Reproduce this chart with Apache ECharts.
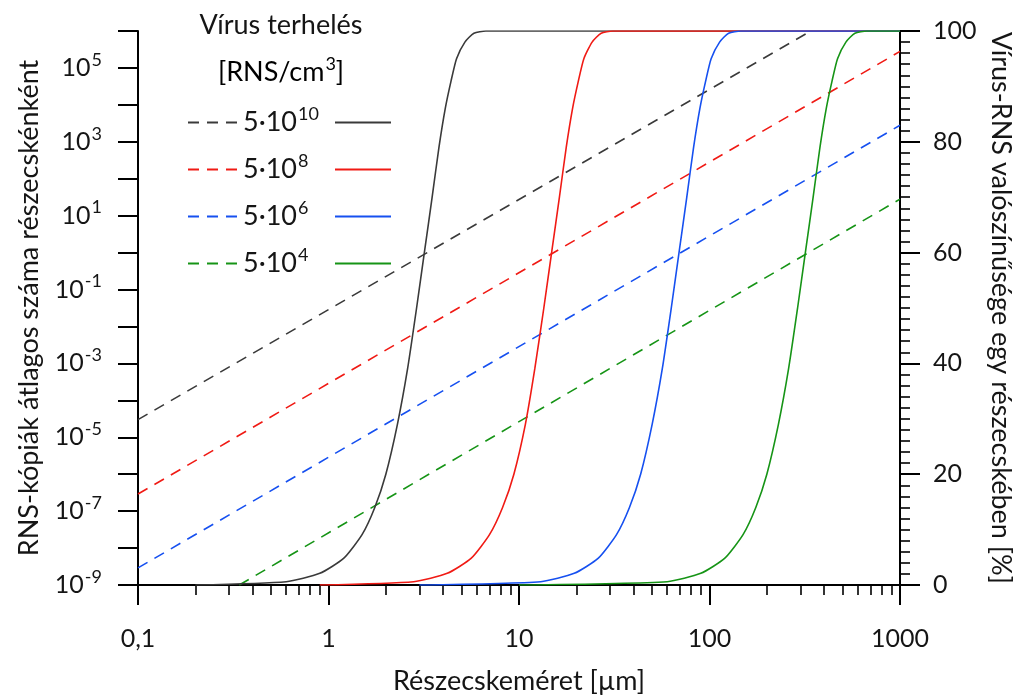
<!DOCTYPE html>
<html><head><meta charset="utf-8">
<script src="https://cdn.jsdelivr.net/npm/echarts@6/dist/echarts.min.js"></script>
<style>html,body{margin:0;padding:0;background:#fff}#c{width:1015px;height:695px}</style>
</head><body><div id="c"></div><script>
// ---- tick values / labels ----
const xTickValues = [0.1, 1, 10, 100, 1000];
const xTickLabels = ['0,1', '1', '10', '100', '1000'];
const xMinorTicks = [0.2,0.3,0.4,0.5,0.6,0.7,0.8,0.9, 2,3,4,5,6,7,8,9, 20,30,40,50,60,70,80,90, 200,300,400,500,600,700,800,900];
const yLeftTicks = [1e-9,1e-8,1e-7,1e-6,1e-5,1e-4,1e-3,1e-2,1e-1,1,1e1,1e2,1e3,1e4,1e5,1e6];
const yLeftLabels = [1e-9,1e-7,1e-5,1e-3,1e-1,1e1,1e3,1e5];
const legendExponents = ['10', '8', '6', '4'];

// ---- mean RNA copies per particle (dashed, left log axis) ----
const dashBlack = [[0.1, 3.0e-5], [340, 1e6]];
const dashRed   = [[0.1, 2.9e-7], [1000, 2.8e5]];
const dashBlue  = [[0.1, 2.9e-9], [1000, 2.8e3]];
const dashGreen = [[0.34, 1e-9], [1000, 28]];

// ---- probability of virus RNA in a particle [%] (solid, right axis) ----
const blackX = [0.2, 0.6, 0.9, 1.2, 1.5, 1.75, 2.0, 2.3, 2.6, 2.9, 3.2, 3.5, 3.8, 4.1, 4.4, 4.7, 5.2, 5.8, 6.7, 1000];
const blackP = [0, 0.6, 2.1, 4.8, 9.1, 14, 20, 29, 39, 50, 60.5, 70, 79, 86, 91, 95, 98, 99.6, 100, 100];
const redX   = [0.9, 2.8, 4.2, 5.6, 7.0, 8.2, 9.4, 10.8, 12.1, 13.5, 14.9, 16.3, 17.7, 19.1, 20.5, 21.9, 24.2, 27, 31, 1000];
const redP   = [0, 0.6, 2.1, 4.8, 9.1, 14, 20, 29, 39, 50, 60.5, 70, 79, 86, 91, 95, 98, 99.6, 100, 100];
const blueX  = [3, 13, 19.5, 26, 32.5, 38, 43.5, 50, 56.5, 63, 69.5, 76, 82.5, 89, 95.5, 102, 113, 126, 146, 1000];
const blueP  = [0, 0.6, 2.1, 4.8, 9.1, 14, 20, 29, 39, 50, 60.5, 70, 79, 86, 91, 95, 98, 99.6, 100, 100];
const greenX = [10, 60, 90, 120, 150, 175, 200, 230, 260, 290, 320, 350, 380, 410, 440, 470, 520, 580, 670, 1000];
const greenP = [0, 0.6, 2.1, 4.8, 9.1, 14, 20, 29, 39, 50, 60.5, 70, 79, 86, 91, 95, 98, 99.6, 100, 100];

const COLORS = ['#3a3a3a', '#f01a14', '#1650f0', '#169416'];
const FONT = 'Lato';
const TXT = '#151515';
const FS = 27;   // titles / axis names
const TFS = 25;  // tick labels
const rich = {
  a: { fontFamily: FONT, fontSize: FS, color: TXT },
  s: { fontFamily: FONT, fontSize: 18, color: TXT, padding: [0, 0, 17, 1] }
};
const richTick = {
  a: { fontFamily: FONT, fontSize: TFS, color: TXT },
  s: { fontFamily: FONT, fontSize: 18, color: TXT, padding: [0, 0, 16, 1] }
};

function zipXY(xs, ys) { return xs.map((x, i) => [x, ys[i]]); }

const dashedSets = [dashBlack, dashRed, dashBlue, dashGreen];
const solidSets = [zipXY(blackX, blackP), zipXY(redX, redP), zipXY(blueX, blueP), zipXY(greenX, greenP)];
const dashNames = legendExponents.map(e => 'd' + e);
const solidNames = legendExponents.map(e => 's' + e);

const series = [];
dashedSets.forEach((d, i) => series.push({
  name: dashNames[i], type: 'line', xAxisIndex: 0, yAxisIndex: 0, data: d,
  symbol: 'none', silent: true,
  lineStyle: { color: COLORS[i], width: 1.6, type: [11, 8] }, itemStyle: { color: COLORS[i] }
}));
solidSets.forEach((d, i) => series.push({
  name: solidNames[i], type: 'line', xAxisIndex: 0, yAxisIndex: 1, data: d,
  symbol: 'none', silent: true, smooth: 0.2,
  lineStyle: { color: COLORS[i], width: 1.6 }, itemStyle: { color: COLORS[i] }
}));

const axisBlack = { color: '#000', width: 2 };
const nearest = (arr, v) => arr.findIndex(t => Math.abs(Math.log10(t) - Math.log10(v)) < 1e-6);

const legendBase = {
  orient: 'vertical', top: 100, itemHeight: 14, itemGap: 16,
  selectedMode: false, textStyle: { rich }, itemStyle: { opacity: 0 }
};

const option = {
  animation: false,
  backgroundColor: '#fff',
  grid: { left: 138, right: 115, top: 31, bottom: 110, containLabel: false, outerBoundsMode: 'none' },
  xAxis: [{
    type: 'log', logBase: 10, min: 0.1, max: 1000, position: 'bottom',
    axisLine: { show: true, lineStyle: axisBlack },
    axisTick: { show: true, length: 20, lineStyle: axisBlack, customValues: xTickValues },
    axisLabel: { customValues: xTickValues, margin: 41, color: TXT, fontFamily: FONT, fontSize: TFS,
      formatter: v => xTickLabels[nearest(xTickValues, v)] },
    splitLine: { show: false }, minorTick: { show: false },
    name: 'Részecskeméret [µm]', nameLocation: 'middle', nameGap: 83,
    nameTextStyle: { color: TXT, fontFamily: FONT, fontSize: FS }
  }, {
    type: 'log', logBase: 10, min: 0.1, max: 1000, position: 'bottom',
    axisLine: { show: false },
    axisTick: { show: true, length: 10, lineStyle: { color: '#000', width: 1.6 }, customValues: xMinorTicks },
    axisLabel: { show: false }, splitLine: { show: false }
  }],
  yAxis: [{
    type: 'log', logBase: 10, min: 1e-9, max: 1e6, position: 'left',
    axisLine: { show: true, lineStyle: axisBlack },
    axisTick: { show: true, length: 20, lineStyle: axisBlack, customValues: yLeftTicks },
    axisLabel: { customValues: yLeftLabels, margin: 36, rich: richTick,
      formatter: v => '{a|10}{s|' + Math.round(Math.log10(v)) + '}' },
    splitLine: { show: false },
    name: 'RNS-kópiák átlagos száma részecskénként', nameLocation: 'middle', nameGap: 95,
    nameTextStyle: { color: TXT, fontFamily: FONT, fontSize: FS }
  }, {
    type: 'value', min: 0, max: 100, interval: 20, position: 'right',
    axisLine: { show: true, lineStyle: axisBlack },
    axisTick: { show: true, length: 20, lineStyle: axisBlack },
    minorTick: { show: true, splitNumber: 10, length: 10, lineStyle: { color: '#000', width: 1.6 } },
    axisLabel: { margin: 33, color: TXT, fontFamily: FONT, fontSize: TFS },
    splitLine: { show: false }, minorSplitLine: { show: false },
    name: 'Vírus-RNS valószínűsége egy részecskében [%]', nameLocation: 'middle', nameGap: 80, nameRotate: -90,
    nameTextStyle: { color: TXT, fontFamily: FONT, fontSize: FS }
  }],
  legend: [Object.assign({}, legendBase, {
    data: dashNames, left: 182, itemWidth: 50,
    formatter: n => '{a|5·10}{s|' + legendExponents[dashNames.indexOf(n)] + '}'
  }), Object.assign({}, legendBase, {
    data: solidNames, left: 329, itemWidth: 56,
    formatter: () => '{a| }{s| }'
  })],
  graphic: [{
    type: 'text', x: 281, y: 12, silent: true,
    style: { text: 'Vírus terhelés', fontFamily: FONT, fontSize: FS, fill: TXT, align: 'center' }
  }, {
    type: 'text', x: 281, y: 55, silent: true,
    style: { text: '{a|[RNS/cm}{s|3}{a|]}', rich, align: 'center' }
  }],
  series
};
const chart = echarts.init(document.getElementById('c'), null, { renderer: 'canvas' });
chart.setOption(option);
</script></body></html>
